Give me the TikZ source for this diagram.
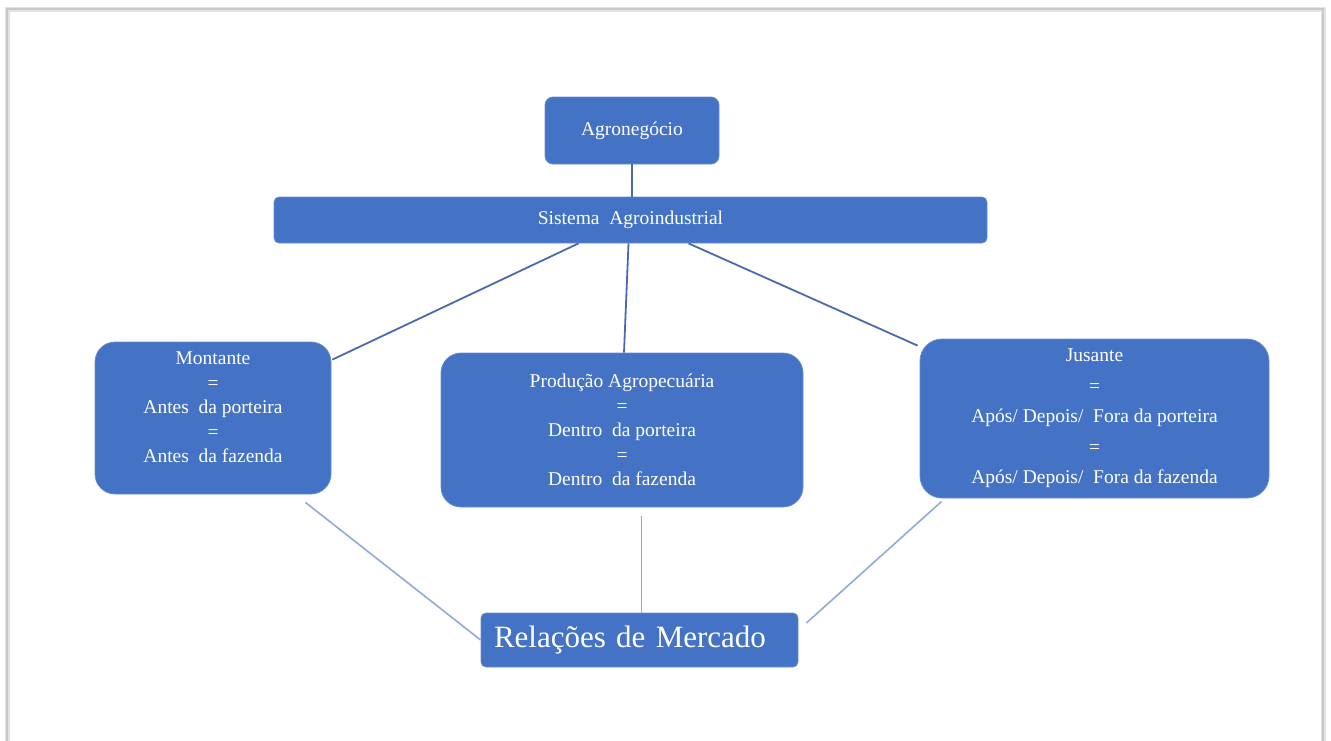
\documentclass[tikz,border=0pt]{standalone}
\usepackage{fontspec}
\setmainfont{LiberationSerif}[Extension=.ttf, UprightFont=*-Regular,
  BoldFont=*-Bold, ItalicFont=*-Italic, BoldItalicFont=*-BoldItalic]
\usetikzlibrary{calc}
\definecolor{boxblue}{HTML}{4472C4}
\definecolor{linkdark}{HTML}{4A6AAE}
\definecolor{linklight}{HTML}{8FAADC}
\definecolor{framegray}{HTML}{C8C8C8}
\tikzset{
  box/.style={fill=boxblue, draw=boxblue!80!white, line width=0.8pt, text=white,
    align=center, inner sep=0pt, font=\fontsize{19.5}{24.5}\selectfont},
  boxtext/.style={text=white, align=center, inner sep=0pt,
    font=\fontsize{19.5}{24.5}\selectfont},
  toplink/.style={draw=linkdark, line width=1.8pt},
  lowlink/.style={draw=linklight, line width=1.6pt},
}
\begin{document}
\begin{tikzpicture}[x=1pt, y=-1pt]
  % page
  \useasboundingbox (0,0) rectangle (1331,740);
  \fill[white] (0,0) rectangle (1331,740);
  % sheet frame with a soft shadow
  \draw[framegray!50, line width=5pt] (7,9) rectangle (1323,745);
  \draw[framegray, line width=1.6pt] (7,9) rectangle (1323,745);

  % boxes
  \node[box, rounded corners=8pt, minimum width=174pt, minimum height=67pt]
    (agro) at (632,130.5) {Agronegócio};
  \node[box, rounded corners=5pt, minimum width=713pt, minimum height=46pt]
    (sis) at (630.5,220) {Sistema\ \ Agroindustrial};
  \node[box, rounded corners=20pt, minimum width=236pt, minimum height=152pt]
    (mon) at (213,418) {};
  \node[boxtext] (montxt) at ($(mon)+(0,-10.5)$)
    {Montante\\=\\Antes\ \ da porteira\\=\\Antes\ \ da fazenda};
  \node[box, rounded corners=20pt, minimum width=362pt, minimum height=154pt]
    (pro) at (622,430) {Produção Agropecuária\\=\\Dentro\ \ da porteira\\=\\Dentro\ \ da fazenda};
  \node[box, rounded corners=22pt, minimum width=349pt, minimum height=159pt,
    font=\fontsize{19.5}{30.5}\selectfont]
    (jus) at (1094.5,418.5) {Jusante\\=\\Após/ Depois/\ \ Fora da porteira\\=\\Após/ Depois/\ \ Fora da fazenda};
  \node[box, rounded corners=5pt, minimum height=54pt, text width=291pt,
    inner xsep=13pt, align=left, font=\fontsize{31}{36}\selectfont]
    (rel) at (639.5,640) {Relações de Mercado};

  % links from the system to its three segments
  \draw[toplink] (agro.south) -- (agro.south |- sis.north);
  \draw[toplink] ($(sis.south)+(-52,0)$) -- ($(mon.north east)+(1,18)$);
  \draw[toplink] ($(sis.south)+(-2,0)$) -- ($(pro.north)+(2,0)$);
  \draw[toplink] ($(sis.south)+(58,0)$) -- ($(jus.north west)+(-2,7)$);

  % links from the segments to the market relations
  \draw[lowlink] ($(mon.south east)+(-26,8)$) -- (rel.west);
  \draw[lowlink] ($(pro.south -| rel.north)+(2,9)$) -- ($(rel.north)+(2,0)$);
  \draw[lowlink] ($(jus.south west)+(22,3)$) -- ($(rel.east)+(8,-17)$);
\end{tikzpicture}
\end{document}
